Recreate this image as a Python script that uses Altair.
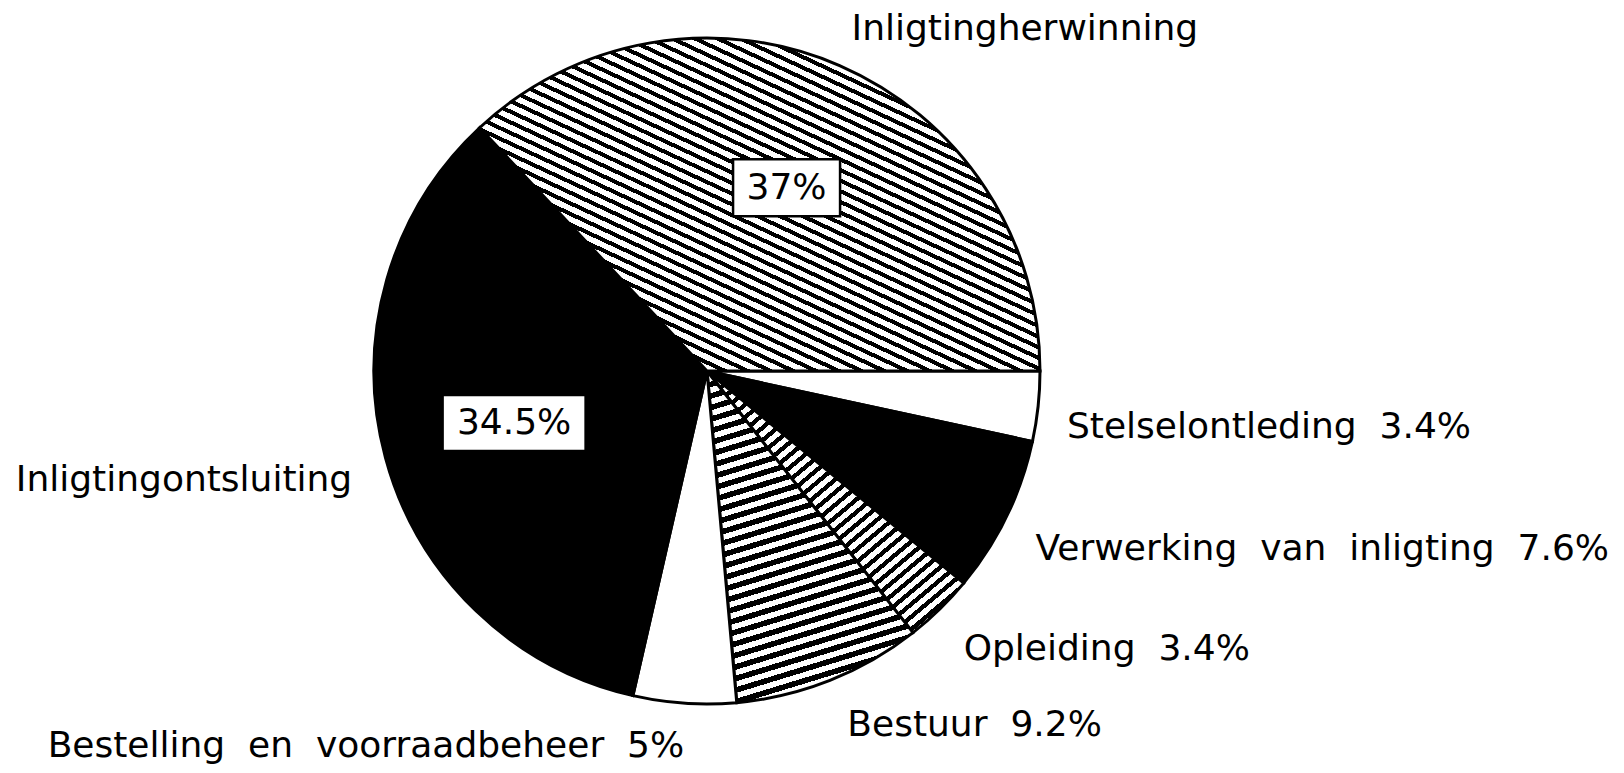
import math
import altair as alt
import pandas as pd

# ---------------- data ----------------
categories = [
    "Stelselontleding",
    "Verwerking van inligting",
    "Opleiding",
    "Bestuur",
    "Bestelling en voorraadbeheer",
    "Inligtingontsluiting",
    "Inligtingherwinning",
]
values = [3.4, 7.6, 3.4, 9.2, 5.0, 34.5, 37.0]
outer_labels = [
    "Stelselontleding 3.4%",
    "Verwerking van inligting 7.6%",
    "Opleiding 3.4%",
    "Bestuur 9.2%",
    "Bestelling en voorraadbeheer 5%",
    "Inligtingontsluiting",
    "Inligtingherwinning",
]
inner_labels = ["", "", "", "", "", "34.5%", "37%"]

# ---------------- layout / style ----------------
TOTAL = sum(values)
R = 333
W, H = 1398, 726
START = math.pi / 2  # first slice begins at 3 o'clock, clockwise
FONT = "DejaVu Sans"
FS = 36
WIDE_SPACE = "\u2007"  # plotter-style wide word spacing


def slice_angles():
    out = {}
    cum = 0.0
    for c, v in zip(categories, values):
        a0 = 90 + 360 * cum / TOTAL
        cum += v
        a1 = 90 + 360 * cum / TOTAL
        out[c] = (a0, a1)
    return out


ANG = slice_angles()


def stripes(cat, line_angle_deg, period, black_frac):
    t0, t1 = ANG[cat]
    pts = [(0.0, 0.0)]
    n = 400
    for i in range(n + 1):
        t = math.radians(t0 + (t1 - t0) * i / n)
        pts.append((R * math.sin(t), -R * math.cos(t)))
    xs = [p[0] for p in pts]
    ys = [p[1] for p in pts]
    w = max(xs) - min(xs)
    h = max(ys) - min(ys)
    phi = math.radians(line_angle_deg)
    a, b = -math.sin(phi), math.cos(phi)
    A, B = a * w, b * h
    x1 = 0.0 if A >= 0 else 1.0
    y1 = 0.0 if B >= 0 else 1.0
    c = (abs(A) + abs(B)) / (A * A + B * B)
    x2 = x1 + c * A
    y2 = y1 + c * B
    L = abs(a) * w + abs(b) * h
    N = max(1, round(L / period))
    stops = []
    for i in range(N):
        o0 = i / N
        o1 = (i + black_frac) / N
        o2 = (i + 1) / N
        stops += [
            alt.GradientStop(color="black", offset=o0),
            alt.GradientStop(color="black", offset=o1),
            alt.GradientStop(color="white", offset=o1),
            alt.GradientStop(color="white", offset=o2),
        ]
    return alt.LinearGradient(gradient="linear", stops=stops, x1=x1, y1=y1, x2=x2, y2=y2)


fills = {
    "Stelselontleding": "white",
    "Verwerking van inligting": "black",
    "Opleiding": stripes("Opleiding", -40, 9.5, 0.45),
    "Bestuur": stripes("Bestuur", -17, 11.0, 0.5),
    "Bestelling en voorraadbeheer": "white",
    "Inligtingontsluiting": "black",
    "Inligtingherwinning": stripes("Inligtingherwinning", 25, 9.7, 0.42),
}

# label offsets (align, dx, dy) relative to the slice-midpoint anchor
label_style = {
    "Stelselontleding": ("left", 9, 18),
    "Verwerking van inligting": ("left", 11, 24),
    "Opleiding": ("left", 10, 25),
    "Bestuur": ("left", 10, 26),
    "Bestelling en voorraadbeheer": ("right", 1, 23),
    "Inligtingontsluiting": ("right", -14, 17),
    "Inligtingherwinning": ("left", 4, -18),
}
box_style = {
    "Inligtingontsluiting": (143, 56),
    "Inligtingherwinning": (107, 57),
}

df = pd.DataFrame(
    {
        "idx": list(range(len(categories))),
        "cat": categories,
        "value": values,
        "label": [s.replace(" ", WIDE_SPACE) for s in outer_labels],
        "inner": inner_labels,
    }
)

base = (
    alt.Chart(df)
    .transform_window(cum="sum(value)", sort=[alt.SortField("idx")], frame=[None, 0])
    .transform_calculate(
        start="datum.cum - datum.value",
        end="datum.cum",
        mid_ang=f"{START} + 2*PI*(datum.cum - datum.value/2)/{TOTAL}",
    )
    .transform_calculate(
        ux="sin(datum.mid_ang)",
        uy="cos(datum.mid_ang)",
    )
    .transform_calculate(
        lx="1.06*datum.ux",
        ly="1.06*datum.uy",
        bx="0.6*datum.ux",
        by="0.6*datum.uy",
    )
)

theta_scale = alt.Scale(domain=[0, TOTAL], range=[START, START + 2 * math.pi])
xs = alt.Scale(domain=[-1, 1], range=[W / 2 - R, W / 2 + R])
ys = alt.Scale(domain=[-1, 1], range=[H / 2 + R, H / 2 - R])

layers = []
for cat in categories:
    layers.append(
        base.transform_filter(alt.FieldEqualPredicate(field="cat", equal=cat))
        .mark_arc(radius=R, fill=fills[cat], stroke="black", strokeWidth=3)
        .encode(
            theta=alt.Theta("start:Q", scale=theta_scale, stack=False),
            theta2="end:Q",
        )
    )

for cat in categories:
    align, dx, dy = label_style[cat]
    layers.append(
        base.transform_filter(alt.FieldEqualPredicate(field="cat", equal=cat))
        .mark_text(
            align=align, baseline="middle", dx=dx, dy=dy,
            font=FONT, fontSize=FS, color="black",
        )
        .encode(
            x=alt.X("lx:Q", scale=xs, axis=None),
            y=alt.Y("ly:Q", scale=ys, axis=None),
            text="label:N",
        )
    )

for cat, (bw, bh) in box_style.items():
    shape = f"M-1,-{bh / bw:.4f}L1,-{bh / bw:.4f}L1,{bh / bw:.4f}L-1,{bh / bw:.4f}Z"
    sub = base.transform_filter(alt.FieldEqualPredicate(field="cat", equal=cat))
    layers.append(
        sub.mark_point(
            shape=shape, size=bw * bw, filled=True, fill="white",
            stroke="black", strokeWidth=2.5, opacity=1,
        ).encode(
            x=alt.X("bx:Q", scale=xs, axis=None),
            y=alt.Y("by:Q", scale=ys, axis=None),
        )
    )
    layers.append(
        sub.mark_text(
            align="center", baseline="middle", font=FONT, fontSize=FS, color="black",
        ).encode(
            x=alt.X("bx:Q", scale=xs, axis=None),
            y=alt.Y("by:Q", scale=ys, axis=None),
            text="inner:N",
        )
    )

chart = (
    alt.layer(*layers)
    .properties(width=W, height=H, padding=0, background="white")
    .configure_view(stroke=None)
)

chart.save("out.html", embed_options={"renderer": "svg", "actions": False})
